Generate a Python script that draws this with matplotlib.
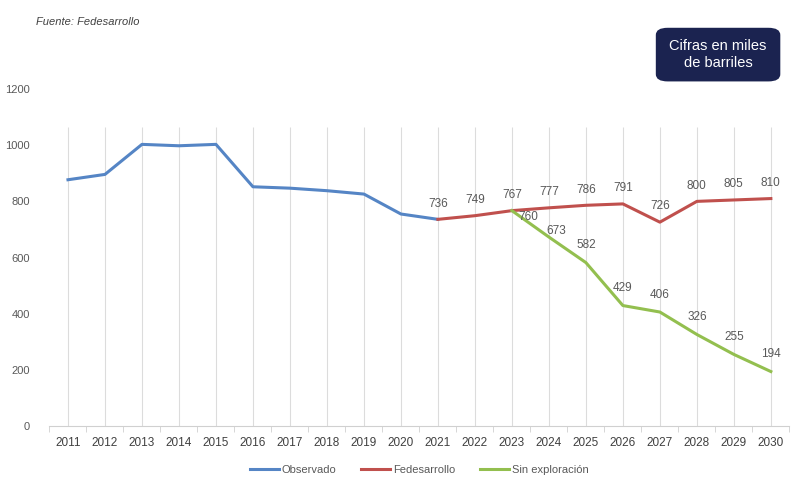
import matplotlib.pyplot as plt
from matplotlib.patches import FancyBboxPatch
import numpy as np

years = list(range(2011, 2031))
obs_years = list(range(2011, 2022))
observado = [877, 896, 1003, 998, 1003, 852, 847, 838, 826, 755, 736]
fed_years = list(range(2021, 2031))
fedesarrollo = [736, 749, 767, 777, 786, 791, 726, 800, 805, 810]
sin_years = list(range(2023, 2031))
sin_exploracion = [760, 673, 582, 429, 406, 326, 255, 194]

c_blue = "#5585c5"
c_red = "#c0504d"
c_green = "#93bf4f"
c_text = "#595959"

plt.rcParams['font.family'] = ['Liberation Sans', 'DejaVu Sans']

fig = plt.figure(figsize=(7.93, 4.79), dpi=100)
ax = fig.add_axes([0.0624, 0.1106, 0.933, 0.7035])

idx = {y: i for i, y in enumerate(years)}
xo = [idx[y] for y in obs_years]
xf = [idx[y] for y in fed_years]
xs = [idx[y] for y in sin_years]

# plot area top sits a bit below 1200, gridlines stop there
ax.vlines(range(len(years)), 0, 1065, color="#dcdcdc", lw=0.8, zorder=1)

ax.plot(xo, observado, color=c_blue, lw=2.2, label="Observado", zorder=3)
ax.plot(xf, fedesarrollo, color=c_red, lw=2.2, label="Fedesarrollo", zorder=3)
# green line starts from the red 2023 point
ax.plot(xs, [fedesarrollo[2]] + sin_exploracion[1:], color=c_green, lw=2.2,
        label="Sin exploración", zorder=3)

for x, v in zip(xf, fedesarrollo):
    ax.annotate(str(v), (x, v), xytext=(0, 7), textcoords="offset points",
                ha="center", va="bottom", fontsize=8.5, color=c_text)
for x, v in zip(xs, sin_exploracion):
    if x == idx[2023]:
        off, va = (12, -3), "center"
    elif x == idx[2024]:
        off, va = (5, 4), "center"
    else:
        off, va = (0, 8), "bottom"
    ax.annotate(str(v), (x, v), xytext=off, textcoords="offset points",
                ha="center", va=va, fontsize=8.5, color=c_text)

ax.set_xlim(-0.5, len(years) - 0.5)
ax.set_ylim(0, 1200)
ax.set_xticks(range(len(years)))
ax.set_xticklabels([str(y) for y in years], fontsize=8.5, color="#404040")
ax.set_xticks(np.arange(-0.5, len(years), 1), minor=True)
ax.set_yticks(range(0, 1201, 200))
ax.set_yticklabels([str(v) for v in range(0, 1201, 200)], fontsize=8, color=c_text)
ax.tick_params(axis="x", which="major", length=0, pad=8)
ax.tick_params(axis="x", which="minor", length=4, color="#d0d0d0")
ax.tick_params(axis="y", length=0, pad=14)
for s in ["top", "right", "left"]:
    ax.spines[s].set_visible(False)
ax.spines["bottom"].set_color("#d0d0d0")

ax.legend(loc="upper center", bbox_to_anchor=(0.5, -0.085), ncol=3, frameon=False,
          fontsize=8, labelcolor=c_text, handlelength=2.6, handletextpad=0.3,
          columnspacing=2.2)

fig.text(0.045, 0.955, "Fuente: Fedesarrollo", fontsize=8, style="italic",
         color="#404040", ha="left", va="center")

box = FancyBboxPatch((0.827, 0.83), 0.157, 0.112, boxstyle="round,pad=0,rounding_size=0.015",
                     transform=fig.transFigure, facecolor="#1b2350", edgecolor="none")
fig.patches.append(box)
fig.text(0.9055, 0.886, "Cifras en miles\nde barriles", fontsize=10.5, color="white",
         ha="center", va="center", linespacing=1.3)

fig.savefig("out.png", dpi=100, facecolor="white")
